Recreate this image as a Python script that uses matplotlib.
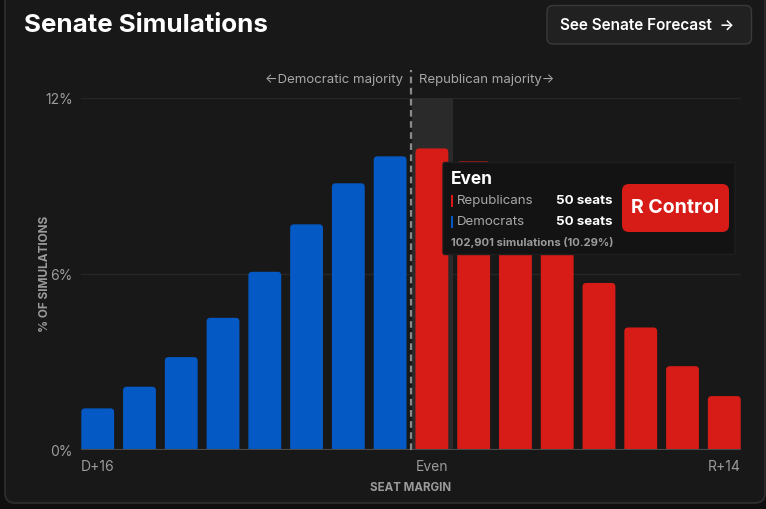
import matplotlib.pyplot as plt
import numpy as np
from matplotlib.patches import FancyBboxPatch
from matplotlib.transforms import Affine2D

plt.rcParams['font.family'] = ['Inter', 'DejaVu Sans']

# data: seat margin (D = negative, R = positive) and share of simulations
margins = ['D+16', 'D+14', 'D+12', 'D+10', 'D+8', 'D+6', 'D+4', 'D+2',
           'Even', 'R+2', 'R+4', 'R+6', 'R+8', 'R+10', 'R+12', 'R+14']
pct = [1.42, 2.16, 3.17, 4.51, 6.08, 7.70, 9.10, 10.02,
       10.29, 9.85, 8.90, 7.35, 5.70, 4.18, 2.86, 1.84]
party = ['D'] * 8 + ['R'] * 8
yticks = [0, 6, 12]
shown_ticks = {'D+16': 0, 'Even': 8, 'R+14': 15}

BLUE = '#0459c4'
RED = '#d71c17'
BG = '#181818'
GRAY = '#9b9b9b'

fig = plt.figure(figsize=(7.66, 5.09), dpi=100)
fig.patch.set_facecolor('#0f0f0f')
# figure in pixel coords (origin top-left)
px = Affine2D().scale(1 / 766, -1 / 509).translate(0, 1) + fig.transFigure

# card
card = FancyBboxPatch((5, -30), 760, 533, boxstyle='round,pad=0,rounding_size=10',
                      transform=px, facecolor=BG, edgecolor='#2f2f2f', lw=1.2,
                      zorder=-5)
fig.patches.append(card)

fig.text(24, 26, 'Senate Simulations', transform=px, color='white',
         fontsize=18.7, fontweight='bold', va='center', ha='left')

btn = FancyBboxPatch((547, 5.5), 204.5, 38.5, boxstyle='round,pad=0,rounding_size=6',
                     transform=px, facecolor='#212121', edgecolor='#3a3a3a', lw=1,
                     zorder=-4)
fig.patches.append(btn)
fig.text(560, 25, 'See Senate Forecast  \u2192', transform=px, color='white',
         fontsize=11, fontweight='semibold', va='center', ha='left')

ax = fig.add_axes([81 / 766, 1 - 450 / 509, 660 / 766, 351.7 / 509])
ax.set_facecolor(BG)
ax.patch.set_alpha(0)
x = np.arange(len(margins))
bars = ax.bar(x, pct, width=0.786, color=[BLUE if p == 'D' else RED for p in party])

# round the top corners of each bar
for b in bars:
    bx, by, bw, bh = b.get_x(), b.get_y(), b.get_width(), b.get_height()
    fc = b.get_facecolor()
    b.remove()
    ax.add_patch(FancyBboxPatch((bx, by - 0.4), bw, bh + 0.4,
                                boxstyle='round,pad=0,rounding_size=0.09',
                                mutation_aspect=1.425, facecolor=fc,
                                edgecolor='none', zorder=3))

ax.set_xlim(-0.4, 15.4)
ax.set_ylim(0, 12)
# hover highlight behind the Even bar
ax.axvspan(7.53, 8.5, color='#2a2a2a', zorder=1, lw=0)

ax.set_yticks(yticks)
ax.set_yticklabels([f'{t}%' for t in yticks])
ax.set_xticks(list(shown_ticks.values()))
ax.set_xticklabels(list(shown_ticks.keys()))
ax.tick_params(length=0, colors=GRAY, labelsize=10)
ax.tick_params(axis='y', pad=6)
ax.tick_params(axis='x', pad=7)
ax.grid(axis='y', color='#262626', lw=1, zorder=0)
ax.set_axisbelow(True)
for s in ax.spines.values():
    s.set_visible(False)
ax.axhline(0, color='#4a4a4a', lw=1.5, zorder=4)

ax.set_ylabel('% OF SIMULATIONS', color=GRAY, fontsize=8.5, fontweight='bold')
ax.yaxis.set_label_coords(-0.046, 0.5)
ax.set_xlabel('SEAT MARGIN', color=GRAY, fontsize=8.3, fontweight='bold', labelpad=6)

# majority divider
ax.plot([7.5, 7.5], [0, 12.95], ls=(0, (3, 2)), color='#8a8a8a', lw=1.6,
        clip_on=False, zorder=5)
ax.text(7.3, 12.62, '\u2190Democratic majority', color='#a8a8a8', fontsize=9.5,
        ha='right', va='center')
ax.text(7.7, 12.62, 'Republican majority\u2192', color='#a8a8a8', fontsize=9.5,
        ha='left', va='center')

# tooltip
tip = FancyBboxPatch((443, 162.5), 292, 92, boxstyle='round,pad=0,rounding_size=2',
                     transform=px, facecolor='#131313', edgecolor='#1e1e1e', lw=1,
                     zorder=10)
fig.patches.append(tip)
fig.text(451, 180, 'Even', transform=px, color='white', fontsize=12.5,
         fontweight='bold', va='center', zorder=11)
for yy, name, c in [(201, 'Republicans', RED), (222, 'Democrats', BLUE)]:
    fig.patches.append(FancyBboxPatch((450.5, yy - 6), 2, 12, boxstyle='square,pad=0',
                                      transform=px, facecolor=c, edgecolor='none',
                                      zorder=11))
    fig.text(457, yy, name, transform=px, color='#a8a8a8', fontsize=9.6,
             va='center', zorder=11)
    fig.text(613, yy, '50 seats', transform=px, color='white', fontsize=9.6,
             fontweight='bold', va='center', ha='right', zorder=11)
fig.text(451, 243, '102,901 simulations (10.29%)', transform=px, color=GRAY,
         fontsize=8.1, fontweight='bold', va='center', zorder=11)

badge = FancyBboxPatch((622, 184), 107, 48, boxstyle='round,pad=0,rounding_size=7',
                       transform=px, facecolor=RED, edgecolor='none', zorder=12)
fig.patches.append(badge)
fig.text(675.5, 208, 'R Control', transform=px, color='white', fontsize=14,
         fontweight='bold', va='center', ha='center', zorder=13)

fig.savefig('out.png', dpi=100, facecolor=fig.get_facecolor())
